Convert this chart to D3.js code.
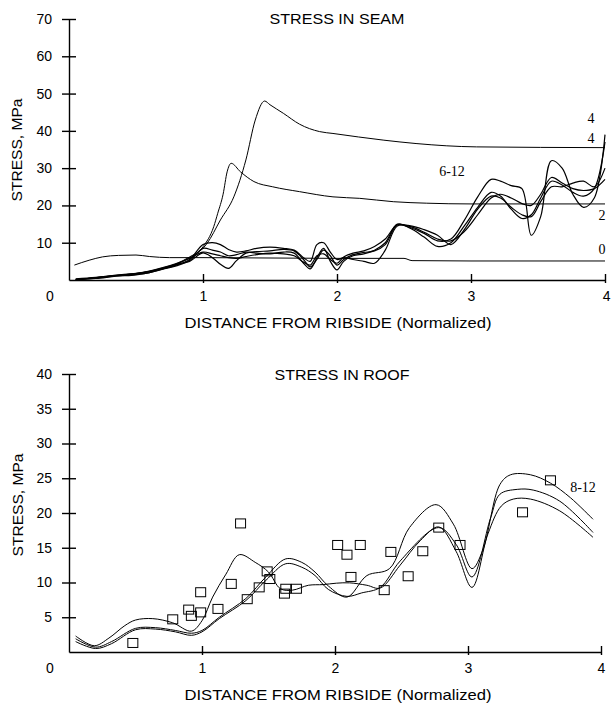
<!DOCTYPE html>
<html>
<head>
<meta charset="utf-8">
<script src="https://cdn.jsdelivr.net/npm/d3@7"></script>
<style>
  body { margin: 0; background: #fff; }
  svg { display: block; font-family: "Liberation Sans", Arial, sans-serif; }
  .axis path, .axis line { stroke: #000; stroke-width: 1.4; }
  .axis text { font-size: 14px; fill: #000; }
  .lab { font-family: "Liberation Serif", "Times New Roman", serif; font-size: 14px; fill: #000; }
</style>
</head>
<body>
<svg width="611" height="707"></svg>
<script>
// ---- seam stress (top chart) ----
var seamX = [0.05, 0.2, 0.35, 0.5, 0.6, 0.7, 0.8, 0.9, 1.0, 1.07, 1.13, 1.19, 1.25, 1.32, 1.4, 1.5,
  1.6, 1.68, 1.75, 1.8, 1.85, 1.9, 1.95, 2.0, 2.05, 2.12, 2.2, 2.28, 2.36, 2.45, 2.55, 2.65,
  2.75, 2.85, 2.95, 3.05, 3.15, 3.22, 3.3, 3.38, 3.45, 3.52, 3.6, 3.68, 3.76, 3.84, 3.92, 4.0];

var seamW1 = [0.2, 0.6, 1.2, 1.7, 2.3, 3.2, 4.2, 5.0, 7.3, 6.0, 4.2, 3.1, 5.2, 7.2, 7.6, 7.8,
  8.2, 7.8, 5.5, 3.5, 5.5, 8.0, 6.5, 4.0, 5.5, 6.8, 7.4, 7.8, 9.5, 14.8, 14.0, 12.5,
  10.5, 11.0, 16.0, 22.3, 27.0, 26.5, 25.3, 24.5, 12.0, 17.0, 32.0, 30.0, 23.0, 19.5, 22.0, 39.0];
var seamW2 = [0.0, 0.5, 1.1, 1.5, 2.0, 3.0, 4.0, 5.5, 9.5, 10.0, 9.5, 8.2, 7.5, 7.8, 8.5, 8.8,
  8.5, 8.0, 6.0, 5.0, 9.5, 10.0, 7.5, 5.5, 6.0, 5.5, 5.0, 4.5, 8.0, 14.5, 14.5, 13.5,
  12.0, 9.5, 13.5, 19.0, 22.5, 22.0, 19.5, 17.5, 17.0, 21.0, 25.0, 25.0, 26.0, 26.5, 25.0, 30.0];
var seamW3 = [0.1, 0.4, 1.0, 1.4, 2.0, 2.9, 3.8, 5.2, 8.5, 8.0, 7.5, 6.5, 6.8, 7.5, 7.2, 7.0,
  7.5, 7.2, 4.5, 3.0, 6.0, 8.5, 5.0, 2.7, 5.0, 6.5, 7.0, 8.0, 10.0, 15.0, 13.8, 11.5,
  9.0, 10.0, 14.5, 19.5, 23.5, 22.5, 19.0, 16.5, 17.5, 22.0, 26.5, 25.5, 23.5, 22.5, 24.5, 37.0];
var seamW4 = [0.3, 0.7, 1.3, 1.8, 2.4, 3.3, 4.4, 5.8, 7.5, 7.0, 6.5, 6.0, 5.8, 6.3, 6.8, 7.2,
  7.0, 6.5, 4.8, 4.0, 6.5, 7.0, 5.5, 4.5, 6.2, 7.2, 7.8, 9.0, 11.0, 14.8, 14.3, 12.8,
  11.0, 10.5, 13.0, 17.5, 22.0, 23.0, 22.0, 20.5, 20.0, 23.0, 27.5, 26.0, 24.5, 24.0, 24.5, 27.0];

var seam0 = [[0.04, 4.0], [0.15, 5.3], [0.25, 6.2], [0.37, 6.6], [0.5, 6.7], [0.6, 6.3], [0.75, 6.0],
  [1.0, 6.0], [1.5, 5.9], [2.0, 5.8], [2.5, 5.8], [2.56, 5.2], [3.0, 5.1], [4.0, 5.1]];
var seam2 = [[0.05, 0.1], [0.35, 1.2], [0.6, 2.2], [0.8, 4.2], [0.9, 6.0], [1.0, 8.9], [1.08, 14.3],
  [1.11, 17.9], [1.15, 23.0], [1.18, 29.0], [1.21, 31.3], [1.28, 29.0], [1.38, 26.4], [1.52, 25.0],
  [1.72, 23.7], [1.97, 22.3], [2.17, 21.9], [2.42, 21.0], [2.67, 20.6], [3.0, 20.4], [4.0, 20.4]];
var seam4 = [[0.05, 0.1], [0.35, 1.2], [0.6, 2.3], [0.8, 4.3], [0.9, 6.2], [1.0, 8.5], [1.03, 9.8],
  [1.13, 16.1], [1.23, 22.3], [1.32, 32.2], [1.39, 42.9], [1.46, 48.0], [1.5, 47.0], [1.6, 44.7],
  [1.72, 41.8], [1.87, 39.8], [1.97, 39.3], [2.35, 37.5], [2.59, 36.6], [3.04, 35.7], [4.0, 35.5]];

// ---- roof stress (bottom chart) ----
var roofA = [[0.05, 2.3], [0.19, 0.9], [0.3, 2.0], [0.42, 3.8], [0.5, 4.6], [0.63, 4.8], [0.78, 4.2],
  [0.92, 3.0], [1.0, 4.5], [1.08, 7.9], [1.18, 11.2], [1.28, 14.0], [1.4, 12.9], [1.5, 11.5],
  [1.59, 9.1], [1.68, 8.9], [1.8, 9.6], [1.91, 9.7], [2.01, 9.9], [2.11, 9.95], [2.24, 9.6],
  [2.34, 9.2], [2.49, 12.5], [2.64, 16.0], [2.78, 18.0], [2.91, 14.5], [3.03, 9.3], [3.15, 17.0],
  [3.25, 21.0], [3.34, 22.0], [3.47, 22.0], [3.69, 20.3], [3.94, 16.5]];
var roofB = [[0.05, 1.9], [0.2, 0.7], [0.32, 1.5], [0.5, 3.4], [0.65, 3.5], [0.8, 3.1], [0.92, 2.7],
  [1.0, 3.1], [1.13, 5.0], [1.33, 7.7], [1.48, 10.8], [1.63, 13.4], [1.75, 12.9], [1.85, 11.5],
  [1.95, 9.5], [2.09, 7.9], [2.24, 11.0], [2.41, 12.0], [2.56, 17.9], [2.76, 21.2], [2.89, 18.4],
  [3.03, 12.0], [3.11, 14.6], [3.24, 24.1], [3.32, 25.5], [3.47, 25.5], [3.62, 24.3], [3.77, 22.2],
  [3.94, 19.1]];
var roofC = [[0.05, 1.5], [0.2, 0.5], [0.32, 1.2], [0.5, 3.2], [0.65, 3.3], [0.8, 2.9], [0.92, 2.4],
  [1.0, 2.9], [1.13, 4.8], [1.33, 7.4], [1.48, 10.3], [1.63, 12.7], [1.75, 12.2], [1.85, 11.0],
  [1.95, 9.0], [2.09, 8.0], [2.2, 8.5], [2.34, 9.3], [2.49, 13.1], [2.78, 17.9], [2.91, 15.5],
  [3.03, 10.8], [3.17, 19.3], [3.24, 22.7], [3.37, 23.4], [3.49, 23.3], [3.69, 21.7], [3.94, 17.2]];

var roofPoints = [[0.48, 1.3], [0.78, 4.7], [0.9, 6.1], [0.92, 5.2], [0.99, 8.6], [0.99, 5.7],
  [1.12, 6.2], [1.29, 18.5], [1.22, 9.8], [1.34, 7.6], [1.43, 9.3], [1.49, 11.6], [1.51, 10.5],
  [1.62, 8.4], [1.63, 9.1], [1.71, 9.1], [2.02, 15.4], [2.09, 14.0], [2.19, 15.4], [2.12, 10.8],
  [2.37, 8.9], [2.42, 14.4], [2.55, 10.9], [2.66, 14.5], [2.78, 17.9], [2.94, 15.4], [3.41, 20.1],
  [3.62, 24.7]];

var seamTicksY = [10, 20, 30, 40, 50, 60, 70];
var roofTicksY = [5, 10, 15, 20, 25, 30, 35, 40];
var ticksX = [1, 2, 3, 4];

var svg = d3.select("svg");

function drawPanel(cfg) {
  var g = svg.append("g");
  var x = cfg.x, y = cfg.y;

  // y axis, ticks cross the line
  g.append("g").attr("class", "axis")
    .attr("transform", "translate(" + x(0) + ",0)")
    .call(d3.axisLeft(y).tickValues(cfg.ticksY).tickFormat(d3.format("d"))
      .tickSize(7).tickSizeOuter(0).tickPadding(10));
  g.append("g").attr("class", "axis")
    .attr("transform", "translate(" + x(0) + ",0)")
    .call(d3.axisLeft(y).tickValues(cfg.ticksY).tickSize(-7).tickFormat(""))
    .select(".domain").remove();

  // x axis
  g.append("g").attr("class", "axis")
    .attr("transform", "translate(0," + y(0) + ")")
    .call(d3.axisBottom(x).tickValues(ticksX).tickFormat(d3.format("d"))
      .tickSize(3).tickSizeOuter(0).tickPadding(8));
  g.append("g").attr("class", "axis")
    .attr("transform", "translate(0," + y(0) + ")")
    .call(d3.axisBottom(x).tickValues(ticksX).tickSize(-6).tickFormat(""))
    .select(".domain").remove();

  g.selectAll(".axis text").style("font-family", "'Liberation Sans', Arial, sans-serif");

  g.append("text").attr("x", x(0) - 19).attr("y", y(0) + 21)
    .attr("text-anchor", "middle").style("font-size", "14px").text("0");

  g.append("text")
    .attr("transform", "translate(" + cfg.yTitleX + "," + cfg.yTitleY + ") rotate(-90)")
    .attr("text-anchor", "middle").style("font-size", "15px")
    .attr("textLength", 103).attr("lengthAdjust", "spacingAndGlyphs")
    .text("STRESS, MPa");

  g.append("text").attr("x", 338).attr("y", cfg.xTitleY)
    .attr("text-anchor", "middle").style("font-size", "15px")
    .attr("textLength", 307).attr("lengthAdjust", "spacingAndGlyphs")
    .text("DISTANCE FROM RIBSIDE (Normalized)");

  g.append("text").attr("x", cfg.titleX).attr("y", cfg.titleY)
    .attr("text-anchor", "middle").style("font-size", "15px")
    .attr("textLength", 135).attr("lengthAdjust", "spacingAndGlyphs")
    .text(cfg.title);

  return g;
}

// ---------- top: stress in seam ----------
var xTop = d3.scaleLinear().domain([0, 4]).range([69, 605]);
var yTop = d3.scaleLinear().domain([0, 70]).range([280, 19]);
var gTop = drawPanel({ x: xTop, y: yTop, ticksY: seamTicksY, yTitleX: 22, yTitleY: 150,
  xTitleY: 328, title: "STRESS IN SEAM", titleX: 337, titleY: 24 });

// keep the last tick label of the top axis inside the page
gTop.selectAll(".axis .tick text").filter(d => d === 4)
  .attr("text-anchor", "end").attr("x", 5);

var lineTop = d3.line().x(d => xTop(d[0])).y(d => yTop(d[1])).curve(d3.curveMonotoneX);
var wavy = d3.line().x(d => xTop(d[0])).y(d => yTop(d[1])).curve(d3.curveCatmullRom.alpha(0.5));

[seam0, seam2, seam4].forEach(function (s) {
  gTop.append("path").attr("d", lineTop(s))
    .attr("fill", "none").attr("stroke", "#000").attr("stroke-width", 1);
});
[seamW1, seamW2, seamW3, seamW4].forEach(function (vals) {
  var pts = seamX.map((xv, i) => [xv, vals[i]]);
  gTop.append("path").attr("d", wavy(pts))
    .attr("fill", "none").attr("stroke", "#000").attr("stroke-width", 1.2);
});

var seamLabels = [["4", 591, 123], ["4", 591, 143], ["6-12", 452, 176], ["2", 602, 220], ["0", 602, 254]];
gTop.selectAll(".lab").data(seamLabels).enter().append("text")
  .attr("class", "lab").attr("text-anchor", "middle")
  .attr("x", d => d[1]).attr("y", d => d[2]).text(d => d[0]);

// ---------- bottom: stress in roof ----------
var xBot = d3.scaleLinear().domain([0, 4]).range([69, 601]);
var yBot = d3.scaleLinear().domain([0, 40]).range([652, 374]);
var gBot = drawPanel({ x: xBot, y: yBot, ticksY: roofTicksY, yTitleX: 23, yTitleY: 505,
  xTitleY: 700, title: "STRESS IN ROOF", titleX: 342, titleY: 380 });

var lineBot = d3.line().x(d => xBot(d[0])).y(d => yBot(d[1])).curve(d3.curveCatmullRom.alpha(0.5));
[roofA, roofB, roofC].forEach(function (s) {
  gBot.append("path").attr("d", lineBot(s))
    .attr("fill", "none").attr("stroke", "#000").attr("stroke-width", 1);
});

gBot.selectAll("rect.pt").data(roofPoints).enter().append("rect")
  .attr("class", "pt")
  .attr("x", d => xBot(d[0]) - 5).attr("y", d => yBot(d[1]) - 4.5)
  .attr("width", 10).attr("height", 9)
  .attr("fill", "none").attr("stroke", "#000").attr("stroke-width", 1);

gBot.append("text").attr("class", "lab").attr("text-anchor", "middle")
  .attr("x", 583).attr("y", 492).text("8-12");
</script>
</body>
</html>
